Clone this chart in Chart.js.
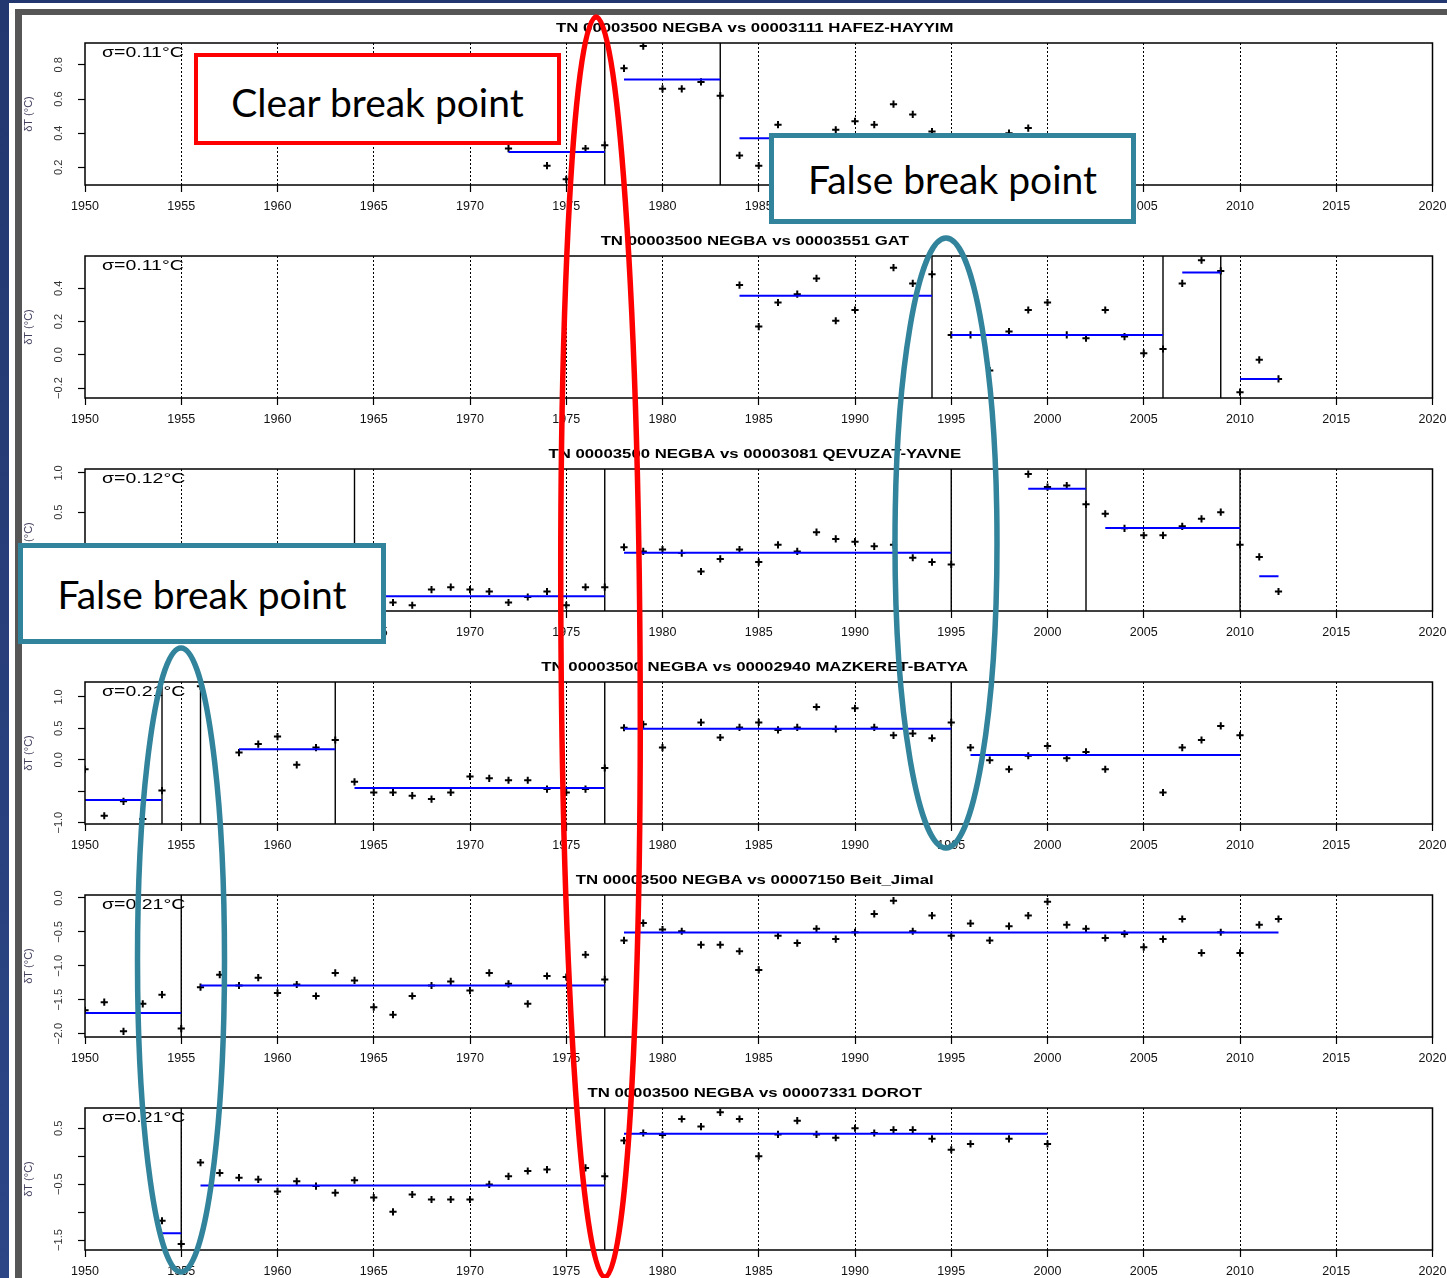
<!DOCTYPE html>
<html>
<head>
<meta charset="utf-8">
<script src="https://cdn.jsdelivr.net/npm/chart.js@4.4.1/dist/chart.umd.min.js"></script>
<style>
  html, body { margin: 0; padding: 0; }
  body {
    width: 1447px; height: 1278px; overflow: hidden; position: relative;
    background: linear-gradient(180deg, #22376f 0%, #2c4686 100%);
  }
  #sheet { position: absolute; left: 9px; top: 3px; width: 1438px; height: 1275px; background: #fff; }
  #inner {
    position: absolute; left: 15px; top: 9px; width: 1432px; height: 1269px;
    box-sizing: border-box; border-left: 7px solid #565656; border-top: 6px solid #565656; background: #fff;
  }
  #plots { position: absolute; left: 0; top: 0; width: 1447px; height: 1278px; }
  canvas.panel { position: absolute; left: 0; }
  .note {
    position: absolute; box-sizing: border-box; background: #fff;
    display: flex; align-items: center; justify-content: center;
    font-family: Lato, "Open Sans", sans-serif; font-size: 39px; color: #000;
  }
  .red { border: 4px solid #f00; }
  .teal { border: 5px solid #31849b; }
  svg.marks { position: absolute; left: 0; top: 0; }
</style>
</head>
<body>
<div id="sheet"></div>
<div id="inner"></div>
<div id="plots"></div>

<div class="note red" style="left:194px; top:53px; width:367px; height:92px; padding-top:6px;">Clear break point</div>
<div class="note teal" style="left:769px; top:133px; width:367px; height:91px;">False break point</div>
<div class="note teal" style="left:18px; top:543px; width:368px; height:101px;">False break point</div>

<svg class="marks" width="1447" height="1278">
  <ellipse cx="600.5" cy="647" rx="39.5" ry="630" fill="none" stroke="#f00" stroke-width="5.5" transform="rotate(-0.4 600.5 647)"/>
  <ellipse cx="946" cy="543" rx="51" ry="305" fill="none" stroke="#31849b" stroke-width="5.5"/>
  <ellipse cx="181" cy="960" rx="43.5" ry="312" fill="none" stroke="#31849b" stroke-width="5.5"/>
</svg>

<script>
// Year axis shared by all panels
const xTicks = [1950, 1955, 1960, 1965, 1970, 1975, 1980, 1985, 1990, 1995, 2000, 2005, 2010, 2015, 2020];

const titles = [
  'TN 00003500 NEGBA vs 00003111 HAFEZ-HAYYIM',
  'TN 00003500 NEGBA vs 00003551 GAT',
  'TN 00003500 NEGBA vs 00003081 QEVUZAT-YAVNE',
  'TN 00003500 NEGBA vs 00002940 MAZKERET-BATYA',
  'TN 00003500 NEGBA vs 00007150 Beit_Jimal',
  'TN 00003500 NEGBA vs 00007331 DOROT'
];
const sigmas = ['σ=0.11°C', 'σ=0.11°C', 'σ=0.12°C', 'σ=0.21°C', 'σ=0.21°C', 'σ=0.21°C'];

// Panel 1: HAFEZ-HAYYIM  [year, dT]
const hafezPoints = [[1972, 0.31], [1974, 0.21], [1975, 0.13], [1976, 0.31], [1977, 0.33], [1978, 0.78],
  [1979, 0.91], [1980, 0.66], [1981, 0.66], [1982, 0.70], [1983, 0.62], [1984, 0.27], [1985, 0.21],
  [1986, 0.45], [1989, 0.42], [1990, 0.47], [1991, 0.45], [1992, 0.57], [1993, 0.51], [1994, 0.41],
  [1998, 0.40], [1999, 0.43]];
const hafezSegments = [[1972, 1977, 0.29], [1978, 1983, 0.715], [1984, 1999, 0.37]];
const hafezBreaks = [1977, 1983];
const hafezRange = [0.097, 0.928];
const hafezTicks = [0.2, 0.4, 0.6, 0.8];
const hafezLabels = [0.2, 0.4, 0.6, 0.8];

// Panel 2: GAT
const gatPoints = [[1984, 0.42], [1985, 0.17], [1986, 0.315], [1987, 0.365], [1988, 0.46], [1989, 0.205],
  [1990, 0.27], [1992, 0.525], [1993, 0.43], [1994, 0.485], [1995, 0.12], [1996, 0.12], [1997, -0.095],
  [1998, 0.14], [1999, 0.27], [2000, 0.315], [2001, 0.12], [2002, 0.10], [2003, 0.27], [2004, 0.11],
  [2005, 0.01], [2006, 0.035], [2007, 0.43], [2008, 0.57], [2009, 0.505], [2010, -0.225], [2011, -0.03],
  [2012, -0.145]];
const gatSegments = [[1984, 1994, 0.355], [1995, 2006, 0.12], [2007, 2009, 0.495], [2010, 2012, -0.145]];
const gatBreaks = [1994, 2006, 2009];
const gatRange = [-0.26, 0.595];
const gatTicks = [-0.2, 0, 0.2, 0.4];
const gatLabels = [-0.2, 0, 0.2, 0.4];

// Panel 3: QEVUZAT-YAVNE
const yavnePoints = [[1966, -0.65], [1967, -0.685], [1968, -0.485], [1969, -0.455], [1970, -0.485],
  [1971, -0.51], [1972, -0.65], [1973, -0.58], [1974, -0.51], [1975, -0.685], [1976, -0.455], [1977, -0.455],
  [1978, 0.055], [1979, 0.0], [1980, 0.025], [1981, -0.02], [1982, -0.255], [1983, -0.095], [1984, 0.025],
  [1985, -0.135], [1986, 0.085], [1987, 0.0], [1988, 0.245], [1989, 0.16], [1990, 0.125], [1991, 0.065],
  [1992, 0.085], [1993, -0.08], [1994, -0.135], [1995, -0.165], [1999, 0.985], [2000, 0.82], [2001, 0.84],
  [2002, 0.6], [2003, 0.48], [2004, 0.295], [2005, 0.205], [2006, 0.205], [2007, 0.32], [2008, 0.415],
  [2009, 0.5], [2010, 0.085], [2011, -0.07], [2012, -0.51]];
const yavneSegments = [[1964, 1977, -0.57], [1978, 1995, -0.015], [1999, 2002, 0.80], [2003, 2010, 0.30], [2011, 2012, -0.315]];
const yavneBreaks = [1964, 1977, 1995, 2002, 2010];
const yavneRange = [-0.758, 1.05];
const yavneTicks = [-0.5, 0, 0.5, 1.0];
const yavneLabels = [-0.5, 0, 0.5, 1.0];

// Panel 4: MAZKERET-BATYA
const batyaPoints = [[1950, -0.15], [1951, -0.89], [1952, -0.66], [1953, -0.94], [1954, -0.49], [1956, 1.17],
  [1958, 0.115], [1959, 0.25], [1960, 0.37], [1961, -0.08], [1962, 0.195], [1963, 0.315], [1964, -0.35],
  [1965, -0.52], [1966, -0.52], [1967, -0.57], [1968, -0.625], [1969, -0.52], [1970, -0.265], [1971, -0.295],
  [1972, -0.325], [1973, -0.325], [1974, -0.465], [1975, -0.52], [1976, -0.465], [1977, -0.13], [1978, 0.51],
  [1979, 0.565], [1980, 0.195], [1982, 0.595], [1983, 0.355], [1984, 0.515], [1985, 0.595], [1986, 0.475],
  [1987, 0.515], [1988, 0.84], [1989, 0.49], [1990, 0.82], [1991, 0.515], [1992, 0.39], [1993, 0.42],
  [1994, 0.345], [1995, 0.595], [1996, 0.195], [1997, -0.005], [1998, -0.15], [1999, 0.065], [2000, 0.22],
  [2001, 0.025], [2002, 0.125], [2003, -0.15], [2006, -0.52], [2007, 0.195], [2008, 0.315], [2009, 0.54],
  [2010, 0.39]];
const batyaSegments = [[1950, 1954, -0.64], [1958, 1963, 0.17], [1964, 1977, -0.45], [1978, 1995, 0.495], [1996, 2010, 0.075]];
const batyaBreaks = [1954, 1956, 1963, 1977, 1995];
const batyaRange = [-1.021, 1.238];
const batyaTicks = [-1.0, -0.5, 0, 0.5, 1.0];
const batyaLabels = [-1.0, 0, 0.5, 1.0];

// Panel 5: Beit_Jimal
const jimalPoints = [[1950, -1.655], [1951, -1.535], [1952, -1.965], [1953, -1.56], [1954, -1.425], [1955, -1.925],
  [1956, -1.315], [1957, -1.13], [1958, -1.29], [1959, -1.175], [1960, -1.40], [1961, -1.275], [1962, -1.445],
  [1963, -1.105], [1964, -1.215], [1965, -1.61], [1966, -1.72], [1967, -1.445], [1968, -1.29], [1969, -1.23],
  [1970, -1.365], [1971, -1.105], [1972, -1.265], [1973, -1.56], [1974, -1.15], [1975, -1.165], [1976, -0.835],
  [1977, -1.20], [1978, -0.625], [1979, -0.37], [1980, -0.465], [1981, -0.49], [1982, -0.69], [1983, -0.69],
  [1984, -0.785], [1985, -1.06], [1986, -0.555], [1987, -0.665], [1988, -0.455], [1989, -0.605], [1990, -0.505],
  [1991, -0.235], [1992, -0.04], [1993, -0.49], [1994, -0.26], [1995, -0.555], [1996, -0.375], [1997, -0.625],
  [1998, -0.415], [1999, -0.26], [2000, -0.055], [2001, -0.395], [2002, -0.455], [2003, -0.59], [2004, -0.53],
  [2005, -0.725], [2006, -0.605], [2007, -0.31], [2008, -0.81], [2009, -0.505], [2010, -0.81], [2011, -0.395],
  [2012, -0.31]];
const jimalSegments = [[1950, 1955, -1.695], [1956, 1977, -1.29], [1978, 2012, -0.51]];
const jimalBreaks = [1955, 1977];
const jimalRange = [-2.049, 0.044];
const jimalTicks = [-2.0, -1.5, -1.0, -0.5, 0];
const jimalLabels = [-2.0, -1.5, -1.0, -0.5, 0];

// Panel 6: DOROT
const dorotPoints = [[1954, -1.155], [1955, -1.57], [1956, -0.115], [1957, -0.30], [1958, -0.385], [1959, -0.415],
  [1960, -0.63], [1961, -0.45], [1962, -0.535], [1963, -0.655], [1964, -0.43], [1965, -0.74], [1966, -0.995],
  [1967, -0.685], [1968, -0.775], [1969, -0.775], [1970, -0.775], [1971, -0.505], [1972, -0.36], [1973, -0.265],
  [1974, -0.24], [1976, -0.21], [1977, -0.36], [1978, 0.28], [1979, 0.415], [1980, 0.38], [1981, 0.665],
  [1982, 0.53], [1983, 0.785], [1984, 0.665], [1985, 0.0], [1986, 0.39], [1987, 0.635], [1988, 0.39],
  [1989, 0.33], [1990, 0.5], [1991, 0.415], [1992, 0.47], [1993, 0.47], [1994, 0.31], [1995, 0.115],
  [1996, 0.22], [1998, 0.31], [2000, 0.22]];
const dorotSegments = [[1954, 1955, -1.38], [1956, 1977, -0.525], [1978, 2000, 0.40]];
const dorotBreaks = [1955, 1977];
const dorotRange = [-1.678, 0.862];
const dorotTicks = [-1.5, -1.0, -0.5, 0, 0.5];
const dorotLabels = [-1.5, -0.5, 0.5];

const panels = [
  { points: hafezPoints, segments: hafezSegments, breaks: hafezBreaks, range: hafezRange, ticks: hafezTicks, labels: hafezLabels },
  { points: gatPoints, segments: gatSegments, breaks: gatBreaks, range: gatRange, ticks: gatTicks, labels: gatLabels },
  { points: yavnePoints, segments: yavneSegments, breaks: yavneBreaks, range: yavneRange, ticks: yavneTicks, labels: yavneLabels },
  { points: batyaPoints, segments: batyaSegments, breaks: batyaBreaks, range: batyaRange, ticks: batyaTicks, labels: batyaLabels },
  { points: jimalPoints, segments: jimalSegments, breaks: jimalBreaks, range: jimalRange, ticks: jimalTicks, labels: jimalLabels },
  { points: dorotPoints, segments: dorotSegments, breaks: dorotBreaks, range: dorotRange, ticks: dorotTicks, labels: dorotLabels }
];

const PANEL_H = 213;
const FONT = '"Liberation Sans", Arial, Helvetica, sans-serif';

function fmt(v) {
  return (v < 0 ? '\u2212' : '') + Math.abs(v).toFixed(1);
}

// Box, title, sigma note and rotated y labels, R style
const panelDecor = {
  id: 'panelDecor',
  afterDraw(chart, args, opts) {
    const { ctx, chartArea: a } = chart;
    const yScale = chart.scales.y;
    ctx.save();

    ctx.strokeStyle = '#000';
    ctx.lineWidth = 1.5;
    ctx.strokeRect(a.left, a.top, a.right - a.left, a.bottom - a.top);

    ctx.fillStyle = '#000';
    ctx.textAlign = 'center';
    ctx.textBaseline = 'middle';
    ctx.font = 'bold 13px ' + FONT;
    ctx.save();
    ctx.translate((a.left + a.right) / 2 - 4, a.top - 15);
    ctx.scale(1.29, 1);
    ctx.fillText(opts.title, 0, 0);
    ctx.restore();

    ctx.textAlign = 'left';
    ctx.font = '15px ' + FONT;
    ctx.save();
    ctx.translate(102, a.top + 10);
    ctx.scale(1.3, 1);
    ctx.fillText(opts.sigma, 0, 0);
    ctx.restore();

    // tick labels on the y axis read bottom to top
    ctx.fillStyle = '#333';
    ctx.textAlign = 'center';
    ctx.font = '11px ' + FONT;
    opts.labels.forEach(v => {
      const y = yScale.getPixelForValue(v);
      ctx.save();
      ctx.translate(59, y);
      ctx.rotate(-Math.PI / 2);
      ctx.fillText(fmt(v), 0, 0);
      ctx.restore();
    });

    ctx.fillStyle = '#43405e';
    ctx.font = '11px ' + FONT;
    ctx.save();
    ctx.translate(29, (a.top + a.bottom) / 2);
    ctx.rotate(-Math.PI / 2);
    ctx.fillText('\u03B4T (\u00B0C)', 0, 0);
    ctx.restore();

    ctx.restore();
  }
};

function makePanel(p, i) {
  const canvas = document.createElement('canvas');
  canvas.className = 'panel';
  canvas.width = 1470;
  canvas.height = PANEL_H;
  canvas.style.width = '1470px';
  canvas.style.height = PANEL_H + 'px';
  canvas.style.top = (PANEL_H * i) + 'px';
  document.getElementById('plots').appendChild(canvas);

  const datasets = [];
  // mean of each homogeneous segment
  p.segments.forEach(([from, to, mean]) => datasets.push({
    data: [{ x: from, y: mean }, { x: to, y: mean }],
    showLine: true, borderColor: '#0000ff', borderWidth: 2, pointRadius: 0, order: 0
  }));
  // detected break years
  p.breaks.forEach(year => datasets.push({
    data: [{ x: year, y: p.range[0] }, { x: year, y: p.range[1] }],
    showLine: true, borderColor: '#000', borderWidth: 1.4, pointRadius: 0, order: 1
  }));
  datasets.push({
    data: p.points.map(([x, y]) => ({ x, y })),
    pointStyle: 'cross', pointRadius: 3.6, pointBorderWidth: 2,
    pointBorderColor: '#000', pointBackgroundColor: '#000', order: 2, clip: 0
  });

  return new Chart(canvas.getContext('2d'), {
    type: 'scatter',
    data: { datasets },
    plugins: [panelDecor],
    options: {
      responsive: false,
      devicePixelRatio: 1,
      animation: false,
      events: [],
      layout: { padding: { top: 43, right: 37.5, bottom: 0, left: 0 } },
      plugins: {
        legend: { display: false },
        tooltip: { enabled: false },
        panelDecor: { title: titles[i], sigma: sigmas[i], labels: p.labels }
      },
      scales: {
        x: {
          type: 'linear',
          min: 1950,
          max: 2020,
          afterBuildTicks: s => { s.ticks = xTicks.map(v => ({ value: v })); },
          afterFit: s => { s.height = 28; },
          grid: {
            color: c => (c.tick && (c.tick.value === 1950 || c.tick.value === 2020)) ? 'rgba(0,0,0,0)' : '#000',
            lineWidth: 1,
            tickLength: 7,
            tickColor: '#000',
            tickWidth: 1.2
          },
          border: { display: false, dash: [2, 2] },
          ticks: {
            color: '#111',
            font: { family: FONT, size: 12.5 },
            padding: 7,
            maxRotation: 0,
            autoSkip: false,
            callback: v => String(v)
          }
        },
        y: {
          type: 'linear',
          min: p.range[0],
          max: p.range[1],
          afterBuildTicks: s => { s.ticks = p.ticks.map(v => ({ value: v })); },
          afterFit: s => { s.width = 85; },
          grid: { drawOnChartArea: false, tickLength: 7, tickColor: '#000', tickWidth: 1.2 },
          border: { display: false },
          ticks: { display: false }
        }
      }
    }
  });
}

panels.forEach(makePanel);
</script>
</body>
</html>
